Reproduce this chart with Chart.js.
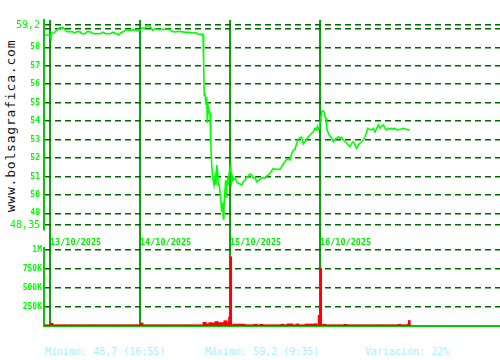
<!DOCTYPE html>
<html>
<head>
<meta charset="utf-8">
<script src="https://cdn.jsdelivr.net/npm/chart.js@4.4.0/dist/chart.umd.min.js"></script>
<style>
  body { margin: 0; background: #fff; }
  #wrap { position: relative; width: 500px; height: 360px; overflow: hidden; background: #fff; }
  #priceChart { position: absolute; left: 0; top: 0; }
  #volChart { position: absolute; left: 0; top: 238px; }
  .wm {
    position: absolute; left: 10px; top: 126px;
    transform: translate(-50%, -50%) rotate(-90deg);
    font: 13px "DejaVu Sans Mono", monospace; letter-spacing: 0.8px;
    color: #111; white-space: nowrap;
  }
  .stat {
    position: absolute; top: 347px;
    font: 10px/10px "DejaVu Sans Mono", monospace;
    color: #aaeeff; white-space: nowrap;
  }
</style>
</head>
<body>
<div id="wrap">
  <div class="wm">www.bolsagrafica.com</div>
  <canvas id="priceChart" width="500" height="248"></canvas>
  <canvas id="volChart" width="500" height="90"></canvas>
  <div class="stat" style="left:45px">Mínimo: 48,7 (16:55)</div>
  <div class="stat" style="left:205px">Máximo: 59,2 (9:35)</div>
  <div class="stat" style="left:365px">Variación: 22%</div>
</div>
<script>
// Sessions shown (x = day index, fraction = time within session)
const days = ['13/10/2025', '14/10/2025', '15/10/2025', '16/10/2025'];

// Price series
const priceX = [
  -0.056, 0, 0.011, 0.022, 0.044, 0.067, 0.089, 0.111, 0.133, 0.144, 0.167, 0.189, 0.244, 0.278, 0.3,
  0.333, 0.356, 0.389, 0.411, 0.444, 0.478, 0.556, 0.589, 0.622, 0.667, 0.7, 0.733, 0.767, 0.789,
  0.822, 0.856, 0.889, 0.922, 0.956, 0.989,
  1.011, 1.033, 1.056, 1.078, 1.089, 1.1, 1.122, 1.144, 1.167, 1.2, 1.278, 1.333, 1.367, 1.4, 1.422,
  1.456, 1.511, 1.556, 1.578, 1.611, 1.633, 1.644, 1.7, 1.703, 1.711, 1.714, 1.722, 1.733, 1.741,
  1.748, 1.759, 1.77, 1.778, 1.786, 1.797, 1.808, 1.822, 1.833, 1.844, 1.852, 1.863, 1.87, 1.881,
  1.889, 1.9, 1.908, 1.919, 1.926, 1.933, 1.944, 1.952, 1.956, 1.963, 1.974, 1.981, 1.992,
  2.008, 2.019, 2.03, 2.037, 2.056, 2.074, 2.092, 2.111, 2.13, 2.148, 2.167, 2.185, 2.203, 2.222,
  2.241, 2.259, 2.278, 2.296, 2.314, 2.333, 2.352, 2.37, 2.389, 2.407, 2.426, 2.444, 2.463, 2.481,
  2.5, 2.556, 2.574, 2.592, 2.611, 2.63, 2.648, 2.667, 2.685, 2.704, 2.722, 2.741, 2.759, 2.778,
  2.796, 2.815, 2.833, 2.852, 2.87, 2.889, 2.907, 2.926, 2.944, 2.956, 2.97, 2.981, 2.992,
  3.0, 3.011, 3.022, 3.033, 3.044, 3.056, 3.067, 3.074, 3.092, 3.111, 3.13, 3.148, 3.167, 3.185,
  3.204, 3.222, 3.241, 3.259, 3.278, 3.296, 3.315, 3.333, 3.352, 3.37, 3.389, 3.407, 3.426, 3.444,
  3.463, 3.481, 3.5, 3.519, 3.53, 3.556, 3.574, 3.593, 3.611, 3.63, 3.648, 3.667, 3.685, 3.704,
  3.722, 3.741, 3.759, 3.778, 3.796, 3.815, 3.833, 3.852, 3.889, 3.926, 3.963, 4.0
];
const priceY = [
  58.67, 58.67, 58.51, 58.78, 58.79, 58.89, 58.99, 59.08, 59.02, 59.09, 58.94, 58.85, 58.85, 58.78, 58.85,
  58.85, 58.74, 58.74, 58.85, 58.85, 58.74, 58.74, 58.82, 58.74, 58.74, 58.82, 58.74, 58.68, 58.79,
  58.87, 58.96, 58.9, 58.96, 58.92, 58.9,
  58.99, 59.06, 59.03, 59.16, 59.2, 59.17, 59.06, 58.92, 59.01, 58.96, 58.98, 58.96, 58.85, 58.83, 58.87,
  58.85, 58.81, 58.81, 58.78, 58.79, 58.78, 58.71, 58.71, 57.15, 57.15, 55.41, 55.52, 54.87, 55.31,
  53.9, 54.76, 54.49, 54.44, 52.88, 51.62, 50.98, 50.53, 50.98, 50.53, 51.62, 51.26, 50.53, 50.53,
  50.17, 49.56, 49.09, 49.36, 48.7, 49.29, 50.17, 50.81, 49.9, 50.53, 50.81, 50.53, 51.26,
  51.53, 50.71, 50.98, 50.81, 50.9, 50.71, 50.63, 50.59, 50.53, 50.71, 50.81, 50.95, 51.02, 51.13,
  51.08, 50.9, 50.95, 50.71, 50.77, 50.84, 50.9, 50.95, 50.9, 51.02, 51.08, 51.17, 51.31, 51.44,
  51.39, 51.39, 51.53, 51.67, 51.8, 51.93, 51.93, 51.89, 52.25, 52.43, 52.47, 52.8, 53.01, 53.12,
  53.12, 52.76, 52.88, 53.01, 53.15, 53.25, 53.34, 53.42, 53.61, 53.52, 53.7, 53.55, 53.61,
  53.97, 54.24, 54.51, 54.56, 54.51, 54.24, 54.15, 53.61, 53.34, 53.19, 53.07, 52.88, 53.01, 53.07,
  53.15, 53.07, 53.12, 52.97, 52.88, 52.8, 52.7, 52.61, 52.8, 52.88, 52.7, 52.52, 52.7, 52.8,
  52.88, 52.97, 53.15, 53.42, 53.61, 53.55, 53.52, 53.61, 53.42, 53.61, 53.79, 53.61, 53.73, 53.79,
  53.61, 53.52, 53.61, 53.55, 53.61, 53.55, 53.61, 53.52, 53.55, 53.61, 53.55, 53.52
];

// Volume (thousands), 30 slots per session
const volPrev = [16, 16];
const vol13 = [37, 16, 16, 16, 16, 16, 16, 16, 16, 16, 16, 16, 16, 16, 16,
               16, 16, 16, 16, 16, 16, 16, 16, 16, 16, 16, 16, 16, 16, 16];
const vol14 = [40, 16, 16, 16, 16, 16, 16, 16, 16, 16, 16, 16, 16, 16, 16,
               16, 16, 16, 16, 16, 16, 50, 30, 45, 40, 60, 45, 45, 70, 45];
const vol15 = [16, 25, 25, 25, 25, 16, 16, 16, 24, 16, 24, 16, 16, 16, 16,
               16, 16, 24, 16, 28, 28, 16, 28, 16, 16, 26, 26, 26, 30, 16];
const vol16 = [16, 24, 16, 16, 16, 16, 16, 16, 22, 16, 16, 16, 16, 16, 16,
               16, 16, 16, 16, 16, 16, 16, 16, 16, 16, 16, 22, 16, 16, 20];
const spikeX = [1.994, 2.008, 2.99, 3.008, 3.992];
const spikeY = [117, 911, 140, 760, 73];

const priceTicks = [48.35, 49, 50, 51, 52, 53, 54, 55, 56, 57, 58, 59, 59.2];
const volTicks = [250, 500, 750, 1000];
const dayTicks = [0, 1, 2, 3];

const X_MIN = -0.0667, X_MAX = 5;
const GRID_DARK = '#006600';
const SEP_GREEN = '#00aa00';
const LABEL_GREEN = '#00ff00';

function fixWidth(scale) {
    scale.width = 44;
    scale.paddingTop = 0;
    scale.paddingBottom = 0;
}

// Price chart
const pricePts = priceX.map((x, i) => ({ x: x, y: priceY[i] }));
new Chart(document.getElementById('priceChart'), {
    type: 'line',
    data: {
        datasets: [{
            data: pricePts,
            borderColor: '#00ff00',
            borderWidth: 1.6,
            pointRadius: 0,
            tension: 0
        }]
    },
    options: {
        responsive: false,
        animation: false,
        layout: { padding: { top: 20, right: 0, left: 0, bottom: 0 } },
        plugins: { legend: { display: false }, tooltip: { enabled: false } },
        scales: {
            x: {
                type: 'linear', min: X_MIN, max: X_MAX,
                afterBuildTicks: s => { s.ticks = dayTicks.map(v => ({ value: v })); },
                afterFit: s => { s.height = 18; },
                grid: { color: SEP_GREEN, lineWidth: 2, tickLength: 18, tickColor: SEP_GREEN, tickWidth: 2 },
                border: { display: false },
                ticks: {
                    autoSkip: false, maxRotation: 0, align: 'start', padding: -10,
                    color: '#00ee00',
                    font: { family: 'DejaVu Sans Mono', size: 8.5, weight: 'bold' },
                    callback: v => days[v]
                }
            },
            y: {
                min: 48.095, max: 59.482,
                afterBuildTicks: s => { s.ticks = priceTicks.map(v => ({ value: v })); },
                afterFit: fixWidth,
                grid: { color: GRID_DARK, lineWidth: 1.6, drawTicks: false },
                border: { color: '#00cc00', width: 2, dash: [6, 4] },
                ticks: {
                    autoSkip: false, padding: 4, color: LABEL_GREEN,
                    font: c => (c.tick && (c.tick.value === 48.35 || c.tick.value === 59.2))
                        ? { family: 'DejaVu Sans Mono', size: 10, weight: 'normal' }
                        : { family: 'DejaVu Sans Mono', size: 8, weight: 'bold' },
                    callback: v => v === 59 ? '' : (v === 48.35 || v === 59.2) ? String(v).replace('.', ',') : String(v)
                }
            }
        }
    }
});

// Volume chart
const stripPts = [];
volPrev.forEach((v, i) => stripPts.push({ x: -(i + 0.5) / 30, y: v }));
[vol13, vol14, vol15, vol16].forEach((arr, d) => {
    arr.forEach((v, i) => stripPts.push({ x: d + (i + 0.5) / 30, y: v }));
});
const spikePts = spikeX.map((x, i) => ({ x: x, y: spikeY[i] }));

new Chart(document.getElementById('volChart'), {
    type: 'bar',
    data: {
        datasets: [
            { data: stripPts, backgroundColor: '#ff0000', barThickness: 3.3, grouped: false, borderWidth: 0 },
            { data: spikePts, backgroundColor: '#ff0000', barThickness: 2, grouped: false, borderWidth: 0 }
        ]
    },
    options: {
        responsive: false,
        animation: false,
        layout: { padding: { top: 10, right: 0, left: 0, bottom: 0 } },
        plugins: { legend: { display: false }, tooltip: { enabled: false } },
        scales: {
            x: {
                type: 'linear', min: X_MIN, max: X_MAX, offset: false,
                afterBuildTicks: s => { s.ticks = dayTicks.map(v => ({ value: v })); },
                afterFit: s => { s.height = 2; s.paddingLeft = 0; s.paddingRight = 0; },
                grid: { color: SEP_GREEN, lineWidth: 2, drawTicks: false, offset: false },
                border: { display: true, color: '#00cc00', width: 2 },
                ticks: { display: false }
            },
            y: {
                min: 0, max: 1026,
                afterBuildTicks: s => { s.ticks = volTicks.map(v => ({ value: v })); },
                afterFit: fixWidth,
                grid: { color: GRID_DARK, lineWidth: 1.6, drawTicks: false },
                border: { color: '#00cc00', width: 2, dash: [6, 4] },
                ticks: {
                    autoSkip: false, padding: 2, color: LABEL_GREEN,
                    font: { family: 'DejaVu Sans Mono', size: 8, weight: 'bold' },
                    callback: v => v === 1000 ? '1M' : v + 'K'
                }
            }
        }
    }
});
</script>
</body>
</html>
